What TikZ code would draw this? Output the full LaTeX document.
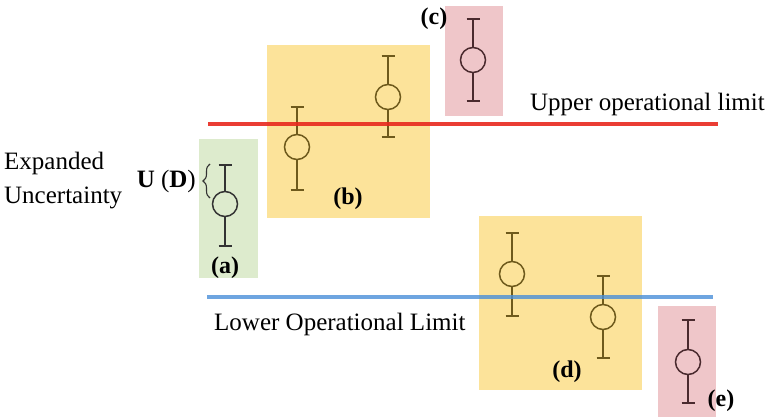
\documentclass[tikz,border=0pt]{standalone}
\usepackage{fontspec}
\setmainfont{Liberation Serif}
\usetikzlibrary{decorations.pathreplacing}
\definecolor{boxyel}{HTML}{FCE39A}
\definecolor{boxpink}{HTML}{EFC6C9}
\definecolor{boxgreen}{HTML}{DDEBCD}
\definecolor{lnred}{HTML}{E8281E}
\definecolor{lnblue}{HTML}{4A8FD8}
\definecolor{barolive}{HTML}{6E5A1C}
\definecolor{bardark}{HTML}{4A2A2E}
\definecolor{bargray}{HTML}{333333}
\tikzset{
  limitline/.style={line width=3.5pt},
  dot/.style={circle,draw,line width=1.5pt,minimum size=25pt,inner sep=0pt},
  whisker/.style={line width=1.5pt},
  lbl/.style={font=\fontsize{24}{28}\selectfont\bfseries,inner sep=0pt},
  txt/.style={font=\fontsize{25}{34}\selectfont,inner sep=0pt,align=left},
}
\newcommand\myerrbar[6]{%
  \node[dot,draw=#6] (#1) at (#2,#4) {};
  \coordinate (#1t) at (#2,#3);
  \coordinate (#1b) at (#2,#5);
  \draw[whisker,#6] (#1.north) -- (#1t);
  \draw[whisker,#6] (#1.south) -- (#1b);
  \draw[whisker,#6] ([xshift=-6.5pt]#1t) -- ([xshift=6.5pt]#1t);
  \draw[whisker,#6] ([xshift=-6.5pt]#1b) -- ([xshift=6.5pt]#1b);
}
\begin{document}
\begin{tikzpicture}[x=1pt,y=-1pt]
\useasboundingbox (0,0) rectangle (769,417);
% regions
\fill[boxgreen] (199,139) rectangle (258,278);
\fill[boxyel] (267,45) rectangle (430,218);
\fill[boxpink] (445,6) rectangle (503,116);
\fill[boxyel] (479,216) rectangle (642,390);
\fill[boxpink] (658,306) rectangle (716,417);
% error bars
\myerrbar{a}{225}{165}{204}{246}{bargray}
\myerrbar{bone}{297}{107}{147}{190}{barolive}
\myerrbar{btwo}{388}{56}{97}{137}{barolive}
\myerrbar{c}{473}{19}{60}{101}{bardark}
\myerrbar{done}{512}{233}{274}{316}{barolive}
\myerrbar{dtwo}{603}{276}{317}{358}{barolive}
\myerrbar{e}{688}{320}{362}{403}{bardark}
% limit lines
\coordinate (ul1) at (208,124); \coordinate (ul2) at (718,124);
\coordinate (ll1) at (207,297); \coordinate (ll2) at (713,297);
\draw[limitline,lnred,opacity=0.9] (ul1) -- (ul2);
\draw[limitline,lnblue,opacity=0.8] (ll1) -- (ll2);
% texts
\node[txt,anchor=east] (upl) at (765,104) {Upper operational limit};
\node[txt,anchor=west] (lol) at (214,324) {Lower Operational Limit};
\node[txt,anchor=west,align=left] (exp) at (4,181) {Expanded\\Uncertainty};
\node[lbl] (la) at (225,268) {(a)};
\node[lbl] (lb) at (348,199) {(b)};
\node[lbl] (lc) at (434,19) {(c)};
\node[lbl] (ld) at (567,372) {(d)};
\node[lbl] (le) at (721,401) {(e)};
\coordinate (brb) at (210,198);
\coordinate (brt) at (210,164);
\draw[line width=1.1pt,bargray,decorate,decoration={brace,amplitude=7pt}] (brb) -- (brt);
\node[inner sep=0pt,anchor=east,font=\fontsize{25}{28}\selectfont] (ud) at (196,181) {\textbf{U}\ (\textbf{D})};
\end{tikzpicture}
\end{document}
